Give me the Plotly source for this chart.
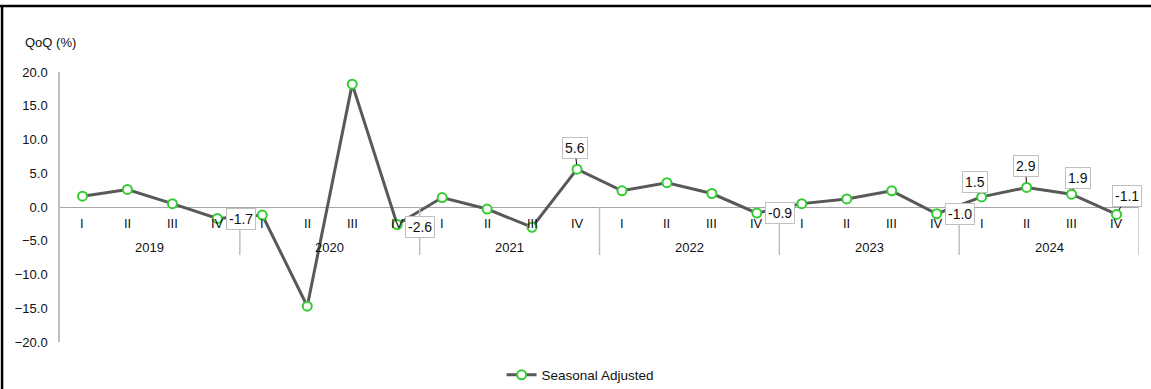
import plotly.graph_objects as go

# Quarterly GDP growth, seasonally adjusted, quarter-on-quarter (%)
years = ["2019", "2020", "2021", "2022", "2023", "2024"]
quarters = ["I", "II", "III", "IV"]
qoq_values = [
    1.6, 2.6, 0.5, -1.7,
    -1.2, -14.7, 18.2, -2.6,
    1.4, -0.3, -3.0, 5.6,
    2.4, 3.6, 2.0, -0.9,
    0.5, 1.2, 2.4, -1.0,
    1.5, 2.9, 1.9, -1.1,
]
series_name = "Seasonal Adjusted"
y_ticks = [-20, -15, -10, -5, 0, 5, 10, 15, 20]

# (index of point, x offset px, y offset px, draw leader line)
label_specs = [
    (3, 24, 1, False),
    (7, 23, 2, False),
    (11, -2, -21, True),
    (15, 23, 0, False),
    (19, 23, 0, False),
    (20, -7, -15, True),
    (21, -1, -21, True),
    (22, 6, -16, True),
    (23, 10, -18, True),
]

FONT = "Liberation Sans, Arial, sans-serif"
TXT = "#111111"

n = len(qoq_values)
xs = list(range(n))

fig = go.Figure()
fig.add_trace(go.Scatter(
    x=xs, y=qoq_values, mode="lines+markers", name=series_name,
    line=dict(color="#595959", width=3),
    marker=dict(size=9, color="white", line=dict(color="#33cc33", width=2)),
    cliponaxis=False,
))

annotations = []
# quarter labels along the zero line
for i in xs:
    annotations.append(dict(
        x=i, y=0, xref="x", yref="y", text=quarters[i % 4], showarrow=False,
        yshift=-16, font=dict(size=13, color=TXT, family=FONT),
    ))
# year labels
for k, yr in enumerate(years):
    annotations.append(dict(
        x=4 * k + 1.5, y=0, xref="x", yref="y", text=yr, showarrow=False,
        yshift=-40, font=dict(size=13, color=TXT, family=FONT),
    ))
# value call-outs
for idx, dx, dy, leader in label_specs:
    v = qoq_values[idx]
    common = dict(
        x=idx, y=v, xref="x", yref="y", text=f"{v:.1f}",
        font=dict(size=14, color=TXT, family=FONT),
        bgcolor="white", bordercolor="#bfbfbf", borderwidth=1, borderpad=2,
    )
    if leader:
        annotations.append(dict(
            **common, showarrow=True, arrowhead=0, arrowwidth=1,
            arrowcolor="#000000", ax=dx, ay=dy, axref="pixel", ayref="pixel",
            standoff=5,
        ))
    else:
        annotations.append(dict(**common, showarrow=False, xshift=dx, yshift=-dy))

# axis title
annotations.append(dict(
    x=-0.0343, y=1.111, xref="paper", yref="paper", text="QoQ (%)",
    showarrow=False, xanchor="left", yanchor="middle",
    font=dict(size=13, color=TXT, family=FONT),
))

shapes = []
# year dividers hanging below the zero line
for k in range(1, len(years) + 1):
    shapes.append(dict(
        type="line", xref="x", yref="y", x0=4 * k - 0.5, x1=4 * k - 0.5,
        ysizemode="pixel", yanchor=0, y0=0, y1=-48,
        line=dict(color="#bfbfbf", width=1.5),
    ))
# outer frame (top and left edges)
shapes.append(dict(type="line", xref="paper", yref="paper",
                   x0=-0.0556, x1=1.02, y0=1.2444, y1=1.2444,
                   line=dict(color="#000000", width=2.5)))
shapes.append(dict(type="line", xref="paper", yref="paper",
                   x0=-0.0537, x1=-0.0537, y0=-0.2, y1=1.2444,
                   line=dict(color="#000000", width=2.5)))

fig.update_layout(
    width=1151, height=389,
    margin=dict(l=60, r=12, t=72, b=47, autoexpand=False),
    paper_bgcolor="white", plot_bgcolor="white",
    font=dict(family=FONT, size=13, color=TXT),
    showlegend=True,
    legend=dict(orientation="h", x=0.482, xanchor="center",
                yref="container", y=0.036, yanchor="middle",
                font=dict(size=13.5, color=TXT, family=FONT),
                itemwidth=30),
    annotations=annotations,
    shapes=shapes,
    xaxis=dict(range=[-0.5, n - 0.5], showgrid=False, zeroline=False,
               showticklabels=False, ticks="", showline=False, fixedrange=True),
    yaxis=dict(range=[-20, 20], tickvals=y_ticks, tickformat=".1f",
               showgrid=False, zeroline=True, zerolinecolor="#a6a6a6",
               zerolinewidth=1, showline=True, linecolor="#bfbfbf",
               linewidth=1.5, ticks="", ticklabelstandoff=8,
               tickfont=dict(size=13, color=TXT, family=FONT)),
)

fig.write_html("out.html")
